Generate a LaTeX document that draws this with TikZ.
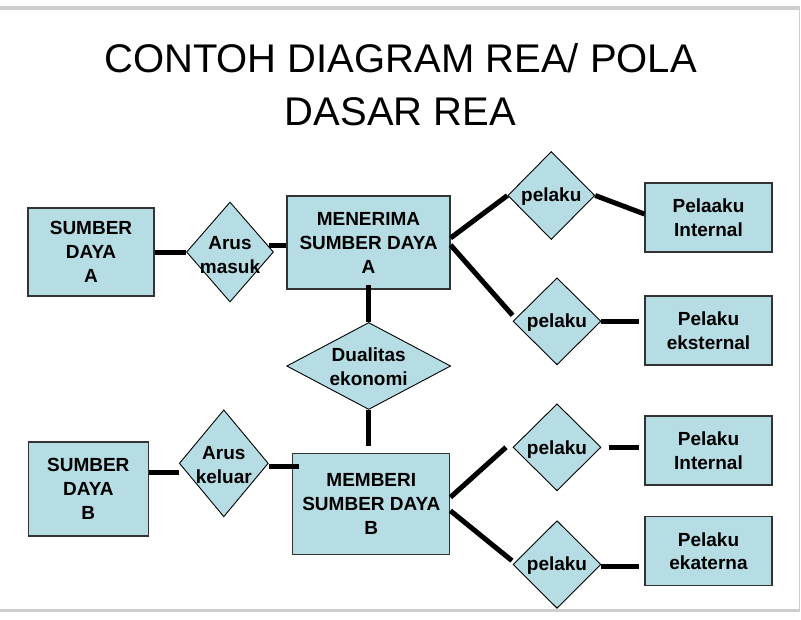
\documentclass[tikz,border=0pt]{standalone}
\usepackage{fontspec}
\setmainfont{Liberation Sans}
\usetikzlibrary{shapes.geometric}
\definecolor{fillc}{RGB}{183,221,228}
\definecolor{framec}{RGB}{205,205,205}
\begin{document}
\begin{tikzpicture}[x=1pt,y=-1pt,
  box/.style={draw=black!80,line width=1.2pt,fill=fillc,inner sep=0pt,
    font=\fontsize{19}{24}\selectfont\bfseries,align=center},
  dia/.style={diamond,draw=black,line width=0.9pt,fill=fillc,inner sep=0pt},
  txt/.style={font=\fontsize{19}{24}\selectfont\bfseries,align=center,inner sep=0pt},
  conn/.style={line width=5pt,black},
  ttl/.style={font=\fontsize{40}{48}\selectfont,anchor=base,inner sep=0pt}
  ]
\useasboundingbox (0,0) rectangle (801,619);
% frame
\fill[framec] (0,6) rectangle (799,9.5);
\fill[framec] (0,608.5) rectangle (800,612.3);
\draw[framec,line width=1.5pt] (799.3,6) -- (799.3,612.3);
% title
\node[ttl] (t1) at (400.5,72) {CONTOH DIAGRAM REA/ POLA};
\node[ttl] (t2) at (400.5,125.5) {DASAR REA};
% boxes
\node[box,minimum width=126pt,minimum height=88pt] (boxA) at (91,252) {SUMBER\\DAYA\\A};
\node[box,minimum width=163pt,minimum height=93pt] (MA) at (368.5,242.5) {MENERIMA\\SUMBER DAYA\\A};
\node[box,minimum width=127pt,minimum height=69pt] (PI1) at (708.5,217.5) {Pelaaku\\Internal};
\node[box,minimum width=127pt,minimum height=69pt] (PE) at (708.5,330.5) {Pelaku\\eksternal};
\node[box,minimum width=120pt,minimum height=94pt] (boxB) at (88.3,489) {SUMBER\\DAYA\\B};
\node[box,minimum width=157pt,minimum height=101pt] (MB) at (371.3,503.8) {MEMBERI\\SUMBER DAYA\\B};
\node[box,minimum width=127pt,minimum height=69pt] (PI2) at (708.5,450.5) {Pelaku\\Internal};
\node[box,minimum width=127pt,minimum height=69pt] (PEk) at (708.5,551.2) {Pelaku\\ekaterna};
% diamonds
\node[dia,minimum width=87pt,minimum height=100pt,label={[txt,yshift=-3.3pt]center:{Arus\\masuk}}] (am) at (230,252) {};
\node[dia,minimum width=164pt,minimum height=87pt,label={[txt,yshift=-1pt]center:{Dualitas\\ekonomi}}] (dual) at (368.7,366) {};
\node[dia,minimum width=87pt,minimum height=88pt,label={[txt,yshift=-1.5pt]center:pelaku}] (p1) at (551.3,195.5) {};
\node[dia,minimum width=88pt,minimum height=87pt,label={[txt,yshift=-1.5pt]center:pelaku}] (p2) at (557,321.3) {};
\node[dia,minimum width=89pt,minimum height=107pt,label={[txt,yshift=-1.4pt]center:{Arus\\keluar}}] (ak) at (223.8,463.3) {};
\node[dia,minimum width=88pt,minimum height=87pt,label={[txt,yshift=-2pt]center:pelaku}] (p3) at (557,447.3) {};
\node[dia,minimum width=88pt,minimum height=87.6pt,label={[txt,yshift=-1.5pt]center:pelaku}] (p4) at (557,564.5) {};
% connectors
\draw[conn] (boxA.east) -- (am.west);
\draw[conn] (am.9.4) -- (am.9.4 -| MA.west);
\draw[conn] ([yshift=5pt]MA.south -| dual.north) -- (dual.north);
\draw[conn,shorten >=6.5pt] (dual.south) -- (dual.south |- MB.north);
\draw[conn] ([yshift=16.7pt]boxB.east) -- ([yshift=16.7pt]boxB.east -| ak.west);
\draw[conn] ([yshift=-2.7pt]ak.east) -- ([xshift=6.6pt,yshift=-2.7pt]ak.east -| MB.west);
\draw[conn] ([yshift=4.5pt]MA.east) -- (p1.west);
\draw[conn] (p1.east) -- ([yshift=3.5pt]PI1.west);
\draw[conn] ([yshift=-2.5pt]MA.east) -- ([yshift=6pt]p2.west);
\draw[conn] (p2.east) -- ([xshift=-5.7pt]p2.east -| PE.west);
\draw[conn] ([yshift=6.5pt]MB.east) -- ([xshift=-6.6pt]p3.west);
\draw[conn] ([xshift=7.3pt]p3.east) -- ([xshift=-5.7pt]p3.east -| PI2.west);
\draw[conn] ([yshift=-6.9pt]MB.east) -- ([yshift=3.8pt,xshift=-0.6pt]p4.west);
\draw[conn] ([yshift=-2.2pt]p4.east) -- ([xshift=-5.7pt,yshift=-2.2pt]p4.east -| PEk.west);
\end{tikzpicture}
\end{document}
